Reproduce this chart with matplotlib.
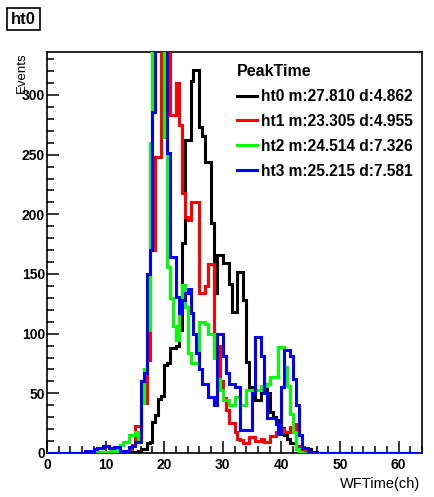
#
#  PeakTime histograms ht0..ht3, ROOT style canvas
#
import numpy as np
import matplotlib.pyplot as plt
from matplotlib.lines import Line2D
from matplotlib.ticker import MultipleLocator

plt.rcParams['font.family'] = ['Liberation Sans', 'DejaVu Sans']
plt.rcParams['font.weight'] = 'bold'

#  Binning: half-channel bins, counts listed from first_bin upward
first_bin = 6.0
bin_width = 0.5
x_max = 64
y_max = 336

ht0 = [0, 0, 0, 0, 0, 0, 0, 0, 0, 0,
       0, 0, 0, 0, 0, 0, 1, 1, 1, 2,
       3, 3, 8, 9, 26, 32, 45, 48, 74, 75,
       88, 88, 90, 103, 176, 262, 262, 312, 321, 321,
       273, 266, 244, 244, 193, 134, 166, 166, 159, 159,
       142, 118, 118, 152, 152, 128, 76, 55, 55, 44,
       44, 52, 58, 50, 34, 30, 28, 21, 21, 15,
       12, 8, 8, 4, 4, 3, 3, 3, 1, 1,
       0, 0, 0, 0]
ht1 = [0, 0, 0, 0, 0, 1, 0, 1, 1, 0,
       0, 0, 1, 1, 2, 2, 3, 7, 23, 23,
       42, 42, 78, 170, 170, 248, 248, 380, 420, 380,
       283, 283, 310, 275, 218, 198, 195, 210, 210, 210,
       134, 134, 140, 158, 158, 95, 90, 60, 46, 36,
       25, 25, 18, 12, 11, 8, 8, 13, 13, 10,
       10, 12, 9, 9, 14, 14, 18, 20, 20, 18,
       18, 22, 24, 6, 4, 2, 1, 0, 0, 0,
       0, 0, 0, 0]
ht2 = [0, 0, 1, 1, 1, 0, 1, 0, 1, 0,
       2, 2, 3, 7, 9, 9, 15, 15, 18, 12,
       42, 70, 103, 260, 420, 400, 380, 340, 265, 156,
       130, 106, 95, 128, 141, 122, 84, 75, 75, 75,
       110, 110, 108, 100, 100, 80, 62, 53, 44, 44,
       40, 40, 47, 47, 40, 40, 53, 53, 50, 53,
       53, 56, 56, 58, 64, 64, 64, 89, 89, 72,
       56, 33, 18, 3, 1, 0, 0, 0, 0, 0,
       0, 0, 0, 0]
ht3 = [0, 2, 2, 2, 3, 4, 4, 6, 6, 4,
       4, 5, 5, 2, 2, 2, 5, 6, 9, 9,
       60, 67, 150, 170, 286, 420, 400, 380, 350, 251,
       164, 164, 131, 117, 128, 134, 137, 117, 100, 84,
       70, 58, 58, 47, 47, 40, 100, 100, 81, 67,
       58, 58, 55, 55, 19, 19, 19, 19, 50, 97,
       97, 81, 50, 29, 29, 29, 24, 16, 55, 86,
       86, 81, 62, 40, 15, 4, 4, 1, 0, 0,
       0, 0, 0, 0]

names = ['ht0', 'ht1', 'ht2', 'ht3']
colors = ['black', '#ff0000', '#00ff00', '#0000ff']
means = [27.810, 23.305, 24.514, 25.215]
devs = [4.862, 4.955, 7.326, 7.581]


def full(counts):
    lead = int(first_bin / bin_width)
    tail = int(x_max / bin_width) - lead - len(counts)
    return np.concatenate([np.zeros(lead), counts, np.zeros(tail)])


edges = np.arange(0, x_max + bin_width / 2, bin_width)

fig = plt.figure(figsize=(4.34, 4.97), dpi=100)
ax = fig.add_axes([47/434, 44/497, 375/434, 401/497])

for counts, c in zip([ht0, ht1, ht2, ht3], colors):
    ax.stairs(full(counts), edges, color=c, lw=2.2, baseline=0, zorder=3)

ax.set_xlim(0, x_max)
ax.set_ylim(0, y_max)
ax.xaxis.set_major_locator(MultipleLocator(10))
ax.xaxis.set_minor_locator(MultipleLocator(2))
ax.yaxis.set_major_locator(MultipleLocator(50))
ax.yaxis.set_minor_locator(MultipleLocator(10))
ax.tick_params(which='both', direction='in', top=False, right=False, width=1.1)
ax.tick_params(which='major', length=8.5, labelsize=10)
ax.tick_params(which='minor', length=5)
ax.tick_params(axis='x', pad=3.5)
ax.tick_params(axis='y', pad=1.5)
for s in ax.spines.values():
    s.set_linewidth(1.2)

ax.set_xlabel('WFTime(ch)', loc='right', fontsize=10.5)
ax.xaxis.set_label_coords(0.995, -0.06)
ax.set_ylabel('Events', loc='top', fontsize=9.5)
ax.yaxis.set_label_coords(-0.05, 1.0)

handles = [Line2D([], [], color=c, lw=2.2) for c in colors]
labels = [f'{n} m:{m:.3f} d:{d:.3f}' for n, m, d in zip(names, means, devs)]
ax.legend(handles, labels, title='PeakTime', loc='upper left',
          bbox_to_anchor=(0.507, 0.970), frameon=False, alignment='left',
          fontsize=11.2, title_fontproperties={'weight': 'bold', 'size': 11.5},
          handlelength=1.3, handletextpad=0.25, labelspacing=0.64,
          borderpad=0, borderaxespad=0)

fig.text(23.5/434, 1 - 19/497, 'ht0', ha='center', va='center', fontsize=12,
         bbox=dict(boxstyle='square,pad=0.22', fc='white', ec='black', lw=1.2))

plt.savefig('out.png', dpi=100)
